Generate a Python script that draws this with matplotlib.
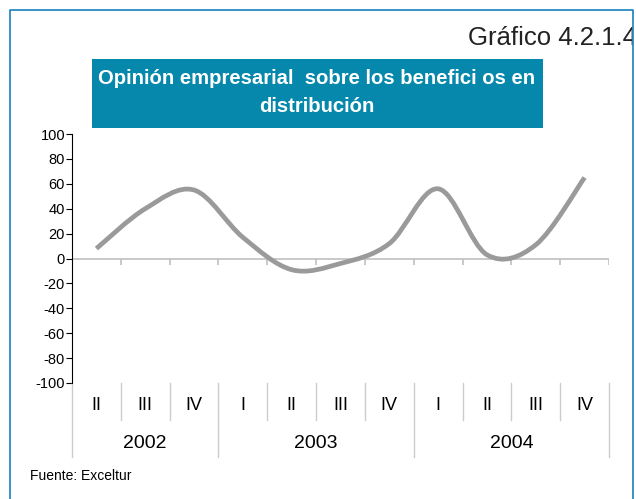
import matplotlib
matplotlib.use('Agg')
import matplotlib.pyplot as plt
from matplotlib.path import Path
from matplotlib.patches import PathPatch, Rectangle
from matplotlib.lines import Line2D
from matplotlib.transforms import blended_transform_factory

plt.rcParams['font.family'] = ['Liberation Sans', 'DejaVu Sans']

# quarterly balance (% respuestas), II-2002 .. IV-2004
quarters = ['II', 'III', 'IV', 'I', 'II', 'III', 'IV', 'I', 'II', 'III', 'IV']
values = [8, 40, 55, 17, -9, -4, 12, 56, 3, 11, 65]
years = ['2002', '2003', '2004']
year_spans = [(0, 3), (3, 7), (7, 11)]   # quarter index range for each year
yticks = [-100, -80, -60, -40, -20, 0, 20, 40, 60, 80, 100]

W, H = 636, 499
BLUE_BOX = '#0588ab'
FRAME = '#2a8ac4'
LINE = '#9a9a9a'
SEP = '#cccccc'


def px(x, y):
    """pixel (from top-left) -> figure fraction"""
    return x / W, 1 - y / H


def smooth_path(xs, ys):
    """Bezier path through the points, Excel-like smoothing (Catmull-Rom)."""
    pts = list(zip(xs, ys))
    verts = [pts[0]]
    codes = [Path.MOVETO]
    n = len(pts)
    for i in range(n - 1):
        p0 = pts[i - 1] if i > 0 else pts[i]
        p1 = pts[i]
        p2 = pts[i + 1]
        p3 = pts[i + 2] if i + 2 < n else pts[i + 1]
        c1 = (p1[0] + (p2[0] - p0[0]) / 6, p1[1] + (p2[1] - p0[1]) / 6)
        c2 = (p2[0] - (p3[0] - p1[0]) / 6, p2[1] - (p3[1] - p1[1]) / 6)
        verts += [c1, c2, p2]
        codes += [Path.CURVE4] * 3
    return Path(verts, codes)


fig = plt.figure(figsize=(W / 100, H / 100), dpi=100)

# axes: x 72..609 px, y 134..383 px
l, t = px(72, 134)
r, b = px(609, 383)
ax = fig.add_axes([l, b, r - l, t - b])

n = len(quarters)
xs = [i + 0.5 for i in range(n)]
ax.set_xlim(0, n)
ax.set_ylim(-100, 100)

ax.axhline(0, color='#c0c0c0', lw=1.2, zorder=1)
ax.vlines(range(1, n + 1), -5, 0, color='#c0c0c0', lw=1.2, zorder=1)

ax.add_patch(PathPatch(smooth_path(xs, values), fill=False, edgecolor=LINE,
                       lw=3.4, capstyle='butt', joinstyle='round', zorder=3))

ax.set_yticks(yticks)
ax.set_yticklabels([str(v) for v in yticks])
ax.set_xticks([])
ax.tick_params(axis='y', direction='out', length=4, width=0.8, pad=1,
               labelsize=10.5, colors='black')
for side in ['top', 'right', 'bottom']:
    ax.spines[side].set_visible(False)
ax.spines['left'].set_linewidth(0.8)

# category table under the plot
trans = blended_transform_factory(ax.transData, ax.transAxes)
long_b = {s for s, e in year_spans} | {e for s, e in year_spans}
for k in range(n + 1):
    depth = -0.298 if k in long_b else -0.149
    ax.add_line(Line2D([k, k], [0, depth], transform=trans, color=SEP,
                       lw=1.0, clip_on=False))
for x, q in zip(xs, quarters):
    ax.text(x, -0.09, q, transform=trans, ha='center', va='center',
            fontsize=13)
for (s, e), yr in zip(year_spans, years):
    ax.text((s + e) / 2, -0.243, yr, transform=trans, ha='center',
            va='center', fontsize=14)

# title box
x0, y1 = px(92, 59)
x1, y0 = px(543, 128)
fig.patches.append(Rectangle((x0, y0), x1 - x0, y1 - y0, transform=fig.transFigure,
                             facecolor=BLUE_BOX, edgecolor='none'))
fig.text(*px(317, 79), 'Opinión empresarial  sobre los benefici os en',
         ha='center', va='center', color='white', fontsize=14.6, fontweight='bold')
fig.text(*px(317, 106), 'distribución', ha='center', va='center',
         color='white', fontsize=14.6, fontweight='bold')

# chart number; its tail is hidden behind the frame
fig.text(*px(468, 45), 'Gráfico 4.2.1.4', ha='left', va='baseline',
         fontsize=18.5, color='#222222', zorder=1)
mx, my = px(633, 0)
fig.add_artist(Rectangle((mx, 0), 1 - mx, 1, transform=fig.transFigure,
                         facecolor='white', edgecolor='none', zorder=5))

fig.text(*px(30, 476), 'Fuente: Exceltur', ha='left', va='center', fontsize=10)

# frame around the chart (open at the bottom)
fx = [10, 10, 633, 633]
fy = [H + 5, 10, 10, H + 5]
fig.add_artist(Line2D([v / W for v in fx], [1 - v / H for v in fy],
                      transform=fig.transFigure, color=FRAME, lw=1.3, zorder=6))

fig.savefig('out.png', dpi=100)
